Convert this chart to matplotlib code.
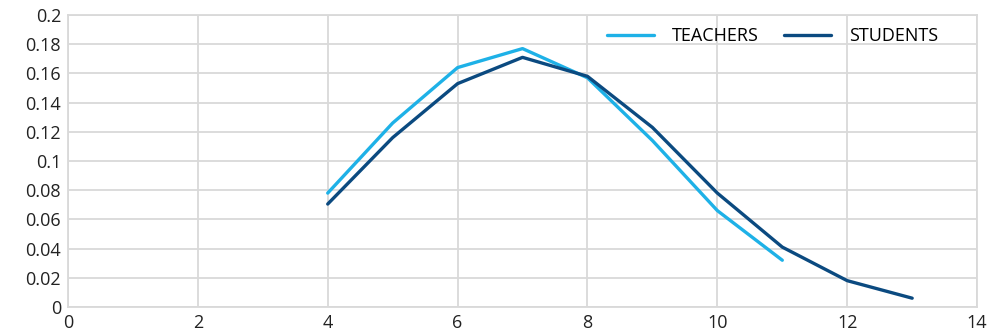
import matplotlib.pyplot as plt

teachers_x = [4, 5, 6, 7, 8, 9, 10, 11]
teachers_y = [0.078, 0.126, 0.164, 0.177, 0.157, 0.114, 0.066, 0.032]
students_x = [4, 5, 6, 7, 8, 9, 10, 11, 12, 13]
students_y = [0.0705, 0.116, 0.153, 0.171, 0.158, 0.123, 0.078, 0.041, 0.018, 0.006]

x_ticks = [0, 2, 4, 6, 8, 10, 12, 14]
y_ticks = [0, 0.02, 0.04, 0.06, 0.08, 0.1, 0.12, 0.14, 0.16, 0.18, 0.2]
y_labels = ["0", "0.02", "0.04", "0.06", "0.08", "0.1", "0.12", "0.14", "0.16", "0.18", "0.2"]

plt.rcParams['font.family'] = ['Open Sans', 'DejaVu Sans']

fig = plt.figure(figsize=(9.92, 3.34), dpi=100)
ax = fig.add_axes([0.0685, 0.081, 0.9165, 0.874])

ax.plot(teachers_x, teachers_y, color='#1eb1e7', lw=2.4, label='TEACHERS', solid_capstyle='round', zorder=3)
ax.plot(students_x, students_y, color='#0b4a80', lw=2.4, label='STUDENTS', solid_capstyle='round', zorder=3)

ax.set_xlim(0, 14)
ax.set_ylim(0, 0.2)
ax.set_xticks(x_ticks)
ax.set_yticks(y_ticks)
ax.set_yticklabels(y_labels)
ax.tick_params(length=0, labelsize=13, colors='#222222', pad=5)
ax.grid(True, color='#d9d9d9', lw=1.3)
ax.set_axisbelow(True)
for s in ax.spines.values():
    s.set_color('#d9d9d9')
    s.set_linewidth(1.3)

ax.legend(loc='upper right', bbox_to_anchor=(0.975, 1.015), ncol=2, frameon=False,
          fontsize=13, handlelength=2.6, handletextpad=1.0, columnspacing=1.4)

fig.savefig('out.png', dpi=100)
